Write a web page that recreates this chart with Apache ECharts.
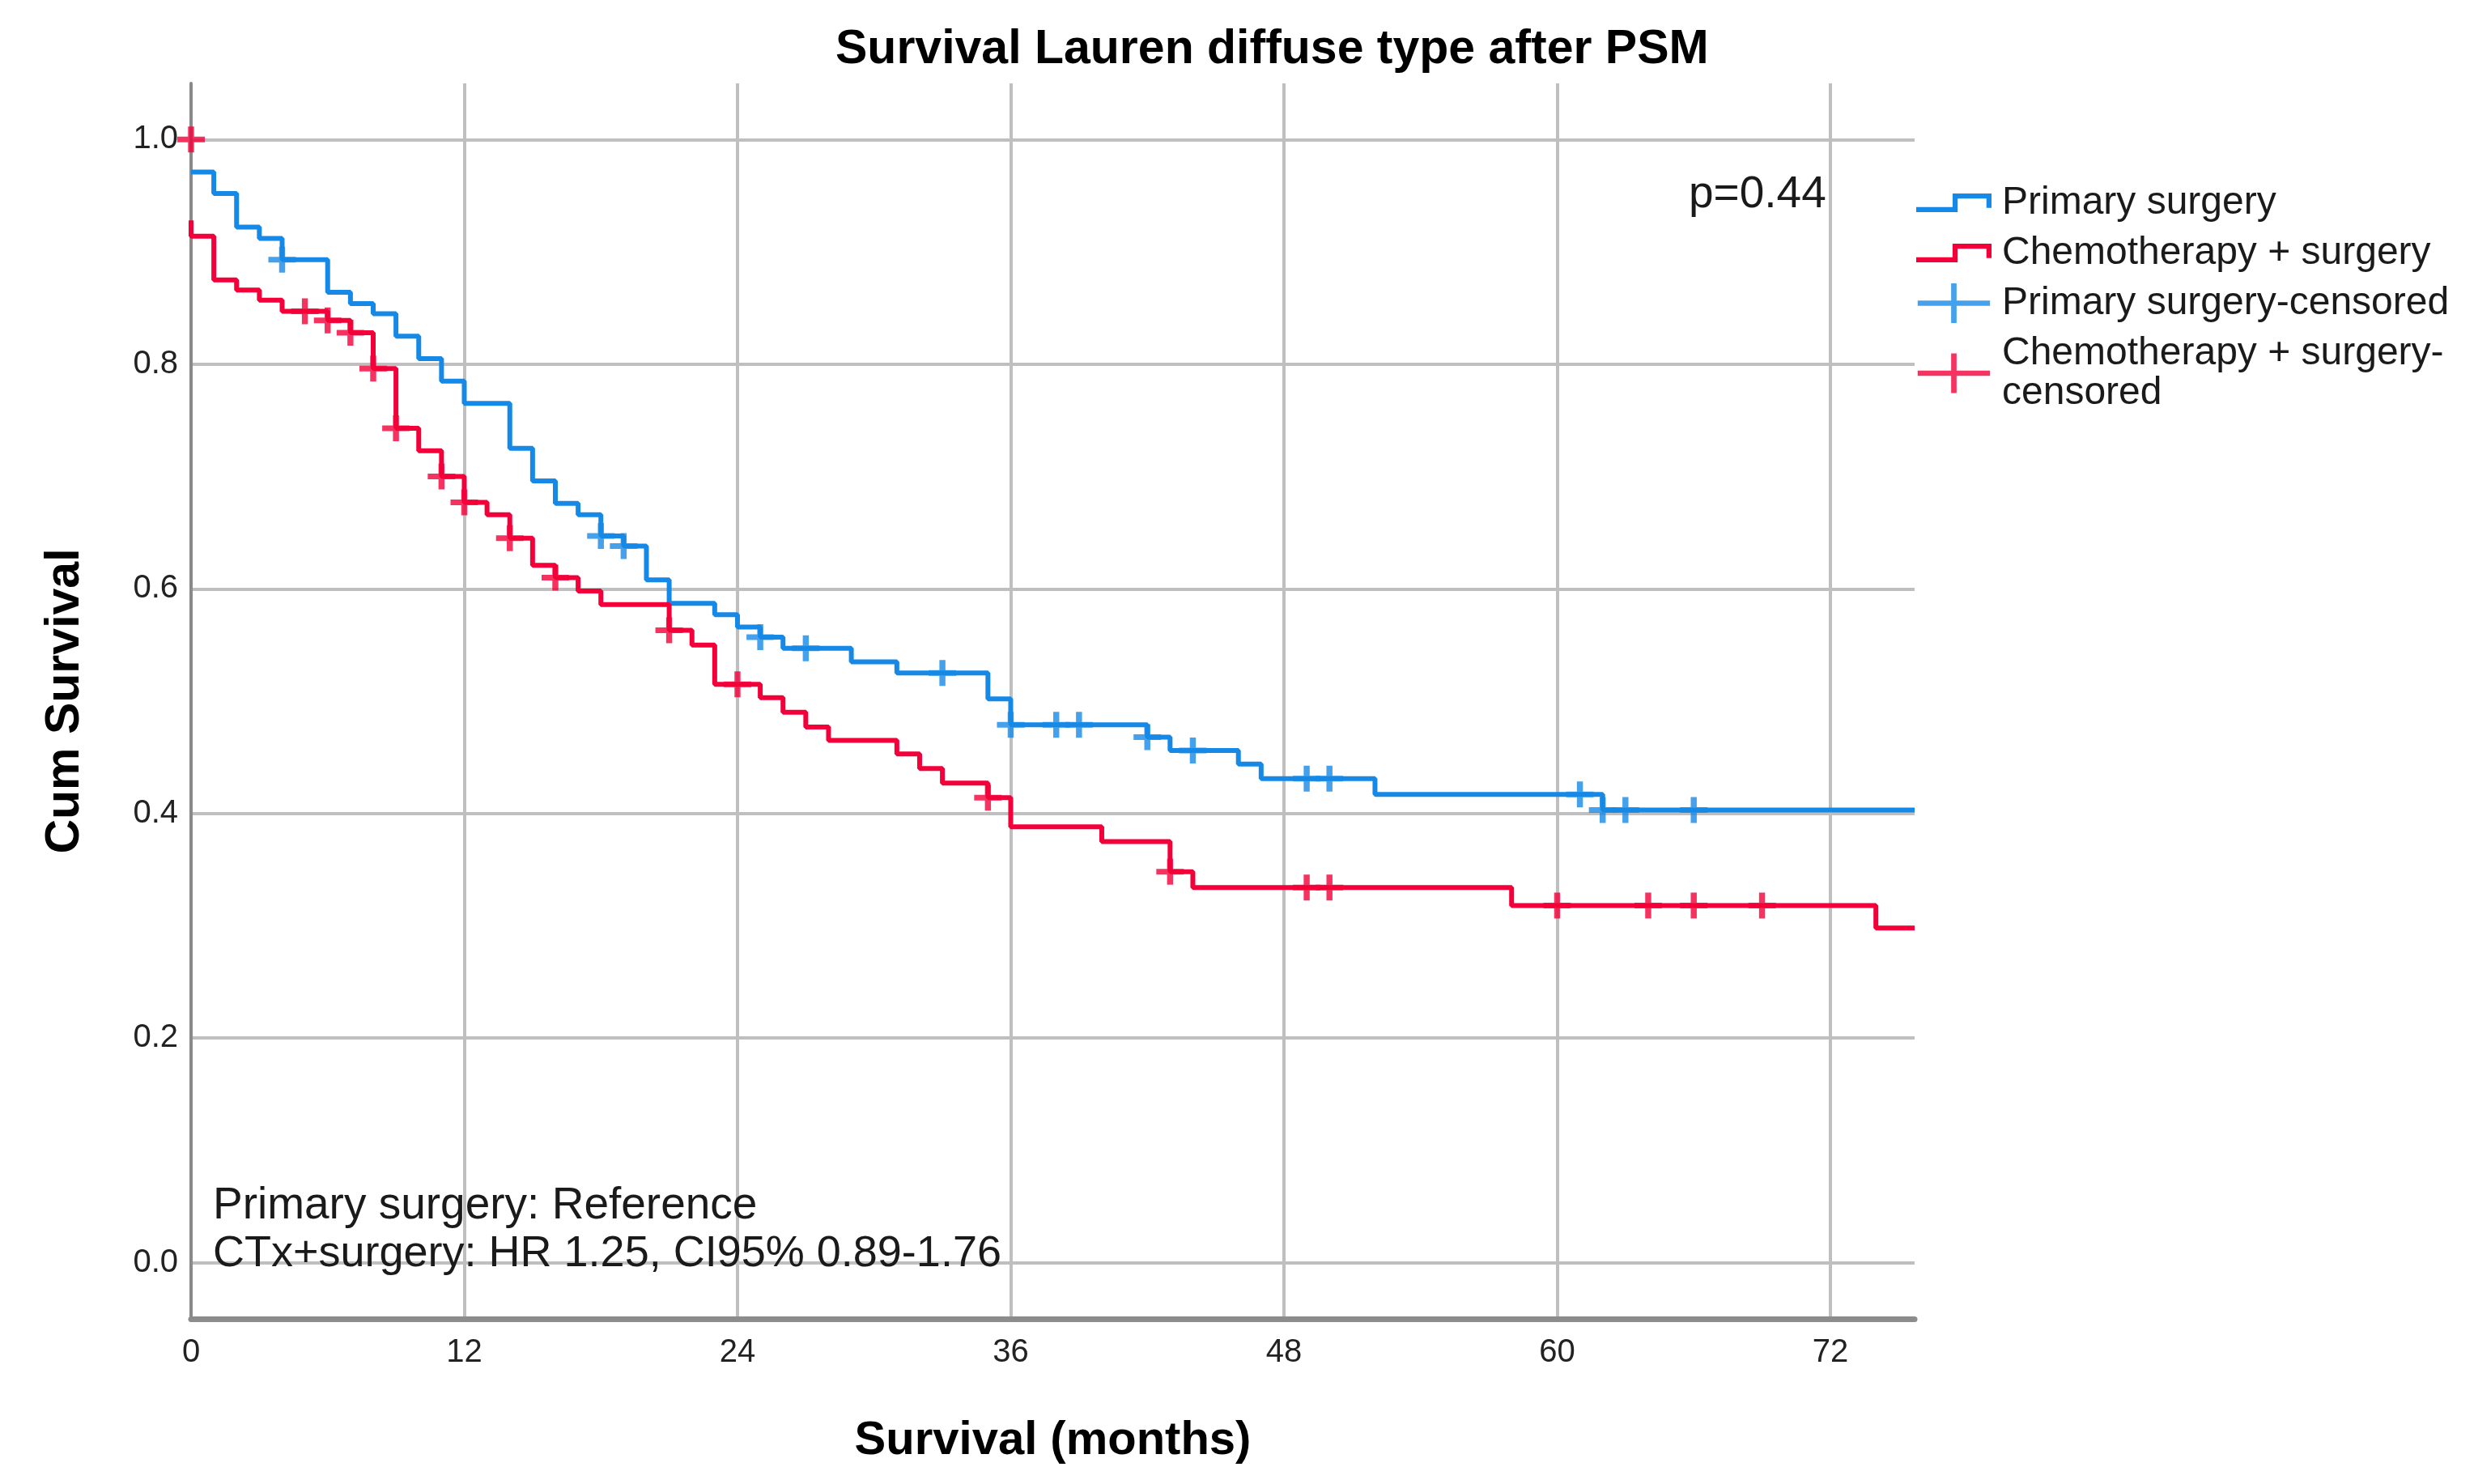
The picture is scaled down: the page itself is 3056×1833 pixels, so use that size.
<!DOCTYPE html>
<html><head><meta charset="utf-8">
<script src="https://cdn.jsdelivr.net/npm/echarts@6/dist/echarts.min.js"></script>
<style>html,body{margin:0;padding:0;background:#fff}#c{width:3056px;height:1833px}</style>
</head><body><div id="c"></div>
<script>
// ---- data ----
const xTicks = [0, 12, 24, 36, 48, 60, 72];
const yTicks = [0, 0.2, 0.4, 0.6, 0.8, 1.0];
const xMax = 75.7;

// Primary surgery: Kaplan-Meier step points (time, survival after step)
const psTimes = [0, 1, 2, 3, 4, 6, 7, 8, 9, 10, 11, 12, 14, 15, 16, 17, 18, 19, 20, 21, 23, 24, 25, 26, 29, 31, 35, 36, 42, 43, 46, 47, 52, 62, 75.7];
const psSurv  = [0.971, 0.952, 0.922, 0.912, 0.893, 0.864, 0.854, 0.845, 0.825, 0.805, 0.785, 0.765, 0.725, 0.696, 0.676, 0.666, 0.647, 0.638, 0.608, 0.587, 0.577, 0.566, 0.557, 0.547, 0.535, 0.525, 0.502, 0.479, 0.468, 0.456, 0.444, 0.431, 0.417, 0.403, 0.403];
// Chemotherapy + surgery
const ctTimes = [0, 0, 1, 2, 3, 4, 6, 7, 8, 9, 10, 11, 12, 13, 14, 15, 16, 17, 18, 21, 22, 23, 25, 26, 27, 28, 31, 32, 33, 35, 36, 40, 43, 44, 58, 74, 75.7];
const ctSurv  = [0.928, 0.914, 0.875, 0.866, 0.857, 0.847, 0.839, 0.828, 0.796, 0.743, 0.723, 0.700, 0.677, 0.666, 0.645, 0.621, 0.610, 0.598, 0.586, 0.563, 0.550, 0.515, 0.503, 0.490, 0.477, 0.465, 0.453, 0.440, 0.427, 0.414, 0.388, 0.375, 0.348, 0.334, 0.318, 0.298, 0.298];
// censored observations
const psCensT = [4, 18, 19, 25, 27, 33, 36, 38, 39, 42, 44, 49, 50, 61, 62, 63, 66];
const psCensS = [0.893, 0.647, 0.638, 0.557, 0.547, 0.525, 0.479, 0.479, 0.479, 0.468, 0.456, 0.431, 0.431, 0.417, 0.403, 0.403, 0.403];
const ctCensT = [0, 5, 6, 7, 8, 9, 11, 12, 14, 16, 21, 24, 35, 43, 49, 50, 60, 64, 66, 69];
const ctCensS = [1.0, 0.847, 0.839, 0.828, 0.796, 0.743, 0.700, 0.677, 0.645, 0.610, 0.563, 0.515, 0.414, 0.348, 0.334, 0.334, 0.318, 0.318, 0.318, 0.318];

const seriesNames = ['Primary surgery', 'Chemotherapy + surgery', 'Primary surgery-censored', 'Chemotherapy + surgery-censored'];
const titleText = 'Survival Lauren diffuse type after PSM';
const xName = 'Survival (months)';
const yName = 'Cum Survival';
const pText = 'p=0.44';
const noteLines = ['Primary surgery: Reference', 'CTx+surgery: HR 1.25, CI95% 0.89-1.76'];

// ---- styling ----
const FONT = '"Liberation Sans", Arial, sans-serif';
const BLUE = '#1689e6';
const RED = '#f3003a';
const plusPath = 'path://M0,12.5L12.5,12.5L12.5,0L19.5,0L19.5,12.5L32,12.5L32,19.5L19.5,19.5L19.5,32L12.5,32L12.5,19.5L0,19.5Z';
const legendCross = 'path://M0,22L43,22L43,0L50,0L50,22L93,22L93,29L50,29L50,51L43,51L43,29L0,29Z';
const legendStep = 'path://M0,16L43,16L43,0L89,0L89,17L83,17L83,6L49,6L49,22L0,22Z';

const zip = (a, b) => a.map((v, i) => [v, b[i]]);

const chart = echarts.init(document.getElementById('c'), null, {renderer: 'canvas'});
chart.setOption({
  animation: false,
  backgroundColor: '#fff',
  title: {
    text: titleText, left: 1032, top: 32, padding: 0,
    textStyle: {fontFamily: FONT, fontSize: 59, fontWeight: 'bold', color: '#000'}
  },
  grid: {left: 236, right: 691, top: 103, bottom: 204, containLabel: false},
  xAxis: {
    type: 'value', min: 0, max: xMax,
    name: xName, nameLocation: 'middle', nameGap: 122,
    nameTextStyle: {fontFamily: FONT, fontSize: 58, fontWeight: 'bold', color: '#000'},
    axisLine: {show: true, onZero: false, lineStyle: {color: '#8c8c8c', width: 7}},
    axisTick: {show: false, customValues: xTicks},
    axisLabel: {customValues: xTicks, margin: 22, fontFamily: FONT, fontSize: 40, color: '#222'},
    splitLine: {show: true, lineStyle: {color: '#bfbfbf', width: 4}}
  },
  yAxis: {
    type: 'value', min: -0.05, max: 1.05,
    name: yName, nameLocation: 'middle', nameGap: 126, nameRotate: 90,
    nameTextStyle: {fontFamily: FONT, fontSize: 59, fontWeight: 'bold', color: '#000'},
    axisLine: {show: true, lineStyle: {color: '#8a8a8a', width: 4}},
    axisTick: {show: false, customValues: yTicks},
    axisLabel: {customValues: yTicks, margin: 16, fontFamily: FONT, fontSize: 40, color: '#222',
      formatter: v => Number(v).toFixed(1)},
    splitLine: {show: true, lineStyle: {color: '#bfbfbf', width: 4}}
  },
  legend: {
    orient: 'vertical', left: 2367, top: 226, padding: 0, itemGap: 13,
    itemWidth: 93, itemHeight: 49, symbolKeepAspect: true,
    itemStyle: {borderWidth: 0},
    textStyle: {fontFamily: FONT, fontSize: 48, lineHeight: 49, color: '#1a1a1a', padding: [0, 0, 0, 8]},
    formatter: name => name === seriesNames[3] ? 'Chemotherapy + surgery-\ncensored' : name,
    data: [
      {name: seriesNames[0], icon: legendStep},
      {name: seriesNames[1], icon: legendStep},
      {name: seriesNames[2], icon: legendCross},
      {name: seriesNames[3], icon: legendCross}
    ]
  },
  graphic: [
    {type: 'text', x: 2086, y: 241, z: 10,
      style: {text: pText, fontFamily: FONT, fontSize: 55, fill: '#1a1a1a', align: 'left', verticalAlign: 'middle'}},
    {type: 'text', x: 263, y: 1490, z: 10,
      style: {text: noteLines[0], fontFamily: FONT, fontSize: 55, fill: '#1a1a1a', align: 'left', verticalAlign: 'middle'}},
    {type: 'text', x: 263, y: 1549, z: 10,
      style: {text: noteLines[1], fontFamily: FONT, fontSize: 54, fill: '#1a1a1a', align: 'left', verticalAlign: 'middle'}}
  ],
  series: [
    {name: seriesNames[0], type: 'line', step: 'end', symbol: 'none', showSymbol: false, z: 3,
      color: BLUE, itemStyle: {color: BLUE}, lineStyle: {color: BLUE, width: 6},
      data: zip(psTimes, psSurv)},
    {name: seriesNames[1], type: 'line', step: 'end', symbol: 'none', showSymbol: false, z: 3,
      color: RED, itemStyle: {color: RED}, lineStyle: {color: RED, width: 6},
      data: zip(ctTimes, ctSurv)},
    {name: seriesNames[2], type: 'scatter', symbol: plusPath, symbolSize: [34, 32], z: 4,
      itemStyle: {color: BLUE}, data: zip(psCensT, psCensS)},
    {name: seriesNames[3], type: 'scatter', symbol: plusPath, symbolSize: [34, 32], z: 4,
      itemStyle: {color: RED}, data: zip(ctCensT, ctCensS)}
  ]
});
</script></body></html>
